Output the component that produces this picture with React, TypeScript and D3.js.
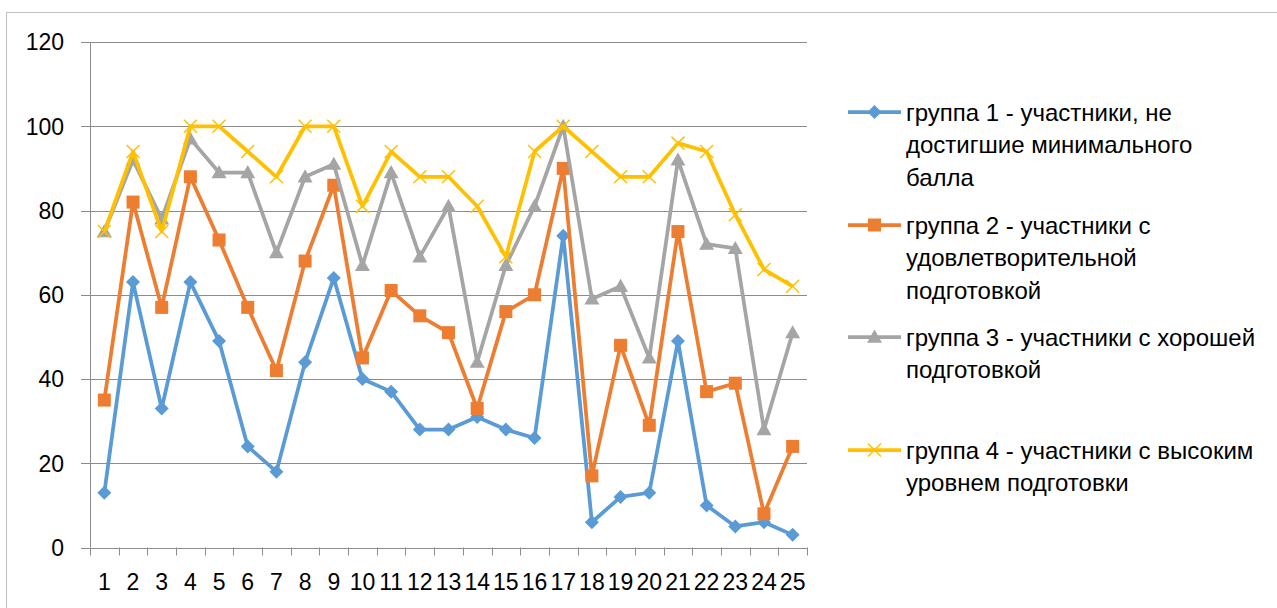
import * as d3 from 'd3'

const WIDTH = 1277
const HEIGHT = 608
const PLOT = { left: 90, right: 807, top: 42, bottom: 547.5 }

const categories = d3.range(1, 26).map(String)
const yTicks = [0, 20, 40, 60, 80, 100, 120]

const group1 = [13, 63, 33, 63, 49, 24, 18, 44, 64, 40, 37, 28, 28, 31, 28, 26, 74, 6, 12, 13, 49, 10, 5, 6, 3]
const group2 = [35, 82, 57, 88, 73, 57, 42, 68, 86, 45, 61, 55, 51, 33, 56, 60, 90, 17, 48, 29, 75, 37, 39, 8, 24]
const group3 = [75, 92, 78, 97, 89, 89, 70, 88, 91, 67, 89, 69, 81, 44, 67, 81, 100, 59, 62, 45, 92, 72, 71, 28, 51]
const group4 = [75, 94, 75, 100, 100, 94, 88, 100, 100, 81, 94, 88, 88, 81, 69, 94, 100, 94, 88, 88, 96, 94, 79, 66, 62]

type Marker = 'diamond' | 'square' | 'triangle' | 'cross'

const series: { name: string[]; values: number[]; color: string; marker: Marker }[] = [
  {
    name: ['группа 1 - участники, не', 'достигшие минимального', 'балла'],
    values: group1,
    color: '#5B9BD5',
    marker: 'diamond',
  },
  {
    name: ['группа 2 - участники с', 'удовлетворительной', 'подготовкой'],
    values: group2,
    color: '#ED7D31',
    marker: 'square',
  },
  {
    name: ['группа 3 - участники с хорошей', 'подготовкой'],
    values: group3,
    color: '#A5A5A5',
    marker: 'triangle',
  },
  {
    name: ['группа 4 - участники с высоким', 'уровнем подготовки'],
    values: group4,
    color: '#FFC000',
    marker: 'cross',
  },
]

const legendY = [112, 225, 337, 450]

const FONT = '"Liberation Sans", Arial, sans-serif'

function MarkerShape({ type, x, y, color }: { type: Marker; x: number; y: number; color: string }) {
  if (type === 'diamond') {
    const r = 7
    return <path d={`M${x},${y - r}L${x + r},${y}L${x},${y + r}L${x - r},${y}Z`} fill={color} />
  }
  if (type === 'square') {
    const s = 13
    return <rect x={x - s / 2} y={y - s / 2} width={s} height={s} fill={color} />
  }
  if (type === 'triangle') {
    const r = 7.5
    return <path d={`M${x},${y - r}L${x + r},${y + r * 0.75}L${x - r},${y + r * 0.75}Z`} fill={color} />
  }
  const r = 6.5
  return (
    <path
      d={`M${x - r},${y - r}L${x + r},${y + r}M${x - r},${y + r}L${x + r},${y - r}`}
      stroke={color}
      strokeWidth={1.5}
      fill="none"
    />
  )
}

export default function App() {
  const x = d3.scaleBand<string>().domain(categories).range([PLOT.left, PLOT.right])
  const y = d3.scaleLinear().domain([0, 120]).range([PLOT.bottom, PLOT.top])
  const cx = (c: string) => (x(c) || 0) + x.bandwidth() / 2

  const line = d3
    .line<number>()
    .x((_, i) => cx(categories[i]))
    .y((v) => y(v))

  return (
    <svg
      width={WIDTH}
      height={HEIGHT}
      style={{ position: 'fixed', left: 0, top: 0, background: '#fff' }}
      fontFamily={FONT}
    >
      <rect x={6.5} y={12.5} width={WIDTH} height={HEIGHT} fill="#fff" stroke="#BFBFBF" strokeWidth={1} />

      {yTicks.map((t) => (
        <g key={t}>
          <line x1={81} x2={PLOT.right} y1={Math.round(y(t)) + 0.5} y2={Math.round(y(t)) + 0.5} stroke="#8C8C8C" strokeWidth={1} />
          <text x={64} y={y(t)} dy="0.36em" textAnchor="end" fontSize={23} fill="#000">
            {t}
          </text>
        </g>
      ))}

      <line x1={PLOT.left + 0.5} x2={PLOT.left + 0.5} y1={y(120)} y2={y(0)} stroke="#8C8C8C" strokeWidth={1} />

      {[...categories, ''].map((c, i) => {
        const tx = Math.round(PLOT.left + i * x.step()) + 0.5
        return <line key={'t' + i} x1={tx} x2={tx} y1={y(0)} y2={y(0) + 8} stroke="#8C8C8C" strokeWidth={1} />
      })}

      {categories.map((c) => (
        <text key={c} x={cx(c)} y={590} textAnchor="middle" fontSize={23} fill="#000">
          {c}
        </text>
      ))}

      {series.map((s) => (
        <g key={s.color}>
          <path d={line(s.values) || ''} fill="none" stroke={s.color} strokeWidth={3.75} strokeLinejoin="round" />
          {s.values.map((v, i) => (
            <MarkerShape key={i} type={s.marker} x={cx(categories[i])} y={y(v)} color={s.color} />
          ))}
        </g>
      ))}

      {series.map((s, si) => (
        <g key={'l' + si}>
          <line x1={848} x2={901} y1={legendY[si]} y2={legendY[si]} stroke={s.color} strokeWidth={3.75} />
          <MarkerShape type={s.marker} x={874.5} y={legendY[si]} color={s.color} />
          {s.name.map((ln, li) => (
            <text key={li} x={906} y={legendY[si] + li * 32.5} dy="0.36em" fontSize={24} fill="#000">
              {ln}
            </text>
          ))}
        </g>
      ))}
    </svg>
  )
}
